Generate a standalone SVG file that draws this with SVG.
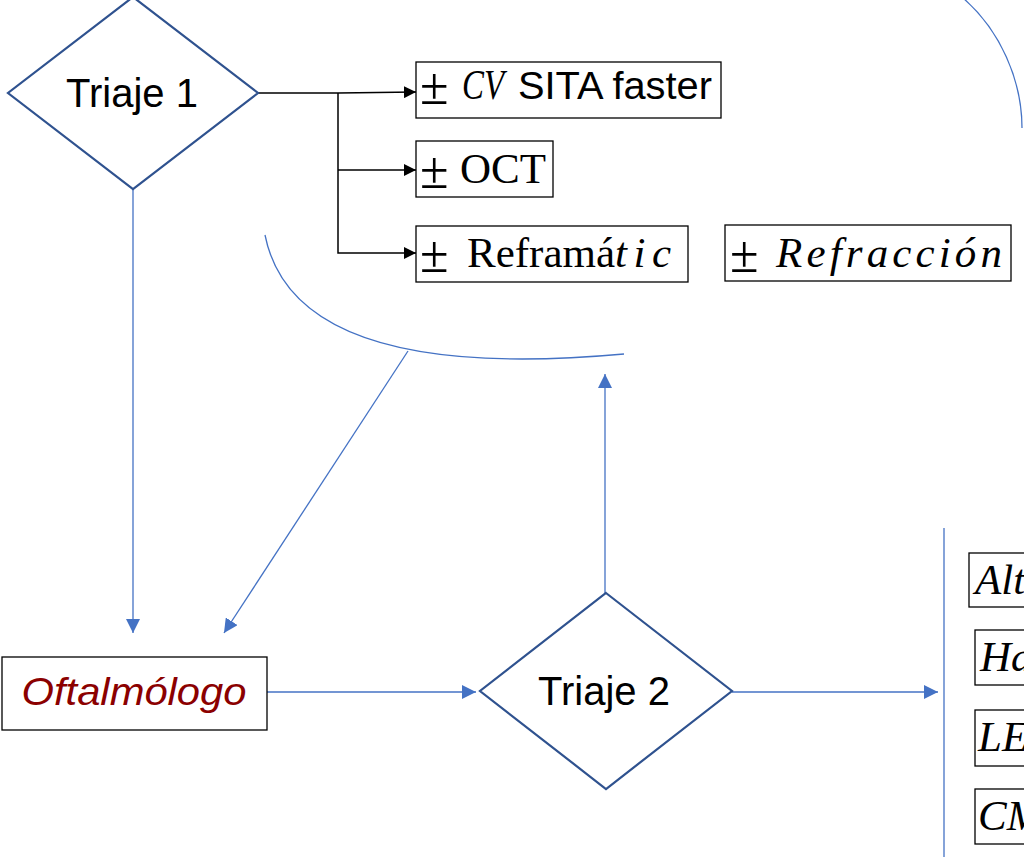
<svg xmlns="http://www.w3.org/2000/svg" width="1024" height="857" viewBox="0 0 1024 857">
  <style>
    .diamond { fill: #ffffff; stroke: #2F528F; stroke-width: 2.2; }
    .box { fill: #ffffff; stroke: #000000; stroke-width: 1.3; }
    .sans { font-family: "Liberation Sans", Arial, sans-serif; fill: #000000; }
    .serif { font-family: "Liberation Serif", "Times New Roman", serif; fill: #000000; }
    .pm { font-family: "Liberation Serif", "Times New Roman", serif; font-size: 52px; fill: #000000; }
    .it { font-style: italic; }
    .blue { fill: none; stroke: #4472C4; stroke-width: 1.3; }
    .black { fill: none; stroke: #000000; stroke-width: 1.5; }
  </style>
  <defs>
    <marker id="arrow-black" markerUnits="userSpaceOnUse" markerWidth="13" markerHeight="12" refX="12" refY="6" orient="auto">
      <path d="M0,0 L12,6 L0,12 z" fill="#000000"/>
    </marker>
    <marker id="arrow-blue" markerUnits="userSpaceOnUse" markerWidth="15" markerHeight="14" refX="14" refY="7" orient="auto">
      <path d="M0,0 L14,7 L0,14 z" fill="#4472C4"/>
    </marker>
  </defs>

  <rect width="1024" height="857" fill="#ffffff"/>

  <!-- connectors -->
  <g id="connectors">
    <!-- Triaje 1 fan-out -->
    <polyline class="black" points="258,93 338,93 416,92" marker-end="url(#arrow-black)"/>
    <polyline class="black" points="338,93 338,253 416,253" marker-end="url(#arrow-black)"/>
    <line class="black" x1="338" y1="170" x2="416" y2="170" marker-end="url(#arrow-black)"/>
    <!-- Triaje 1 down to Oftalmólogo -->
    <line class="blue" x1="133" y1="189" x2="133" y2="633" marker-end="url(#arrow-blue)"/>
    <!-- curved brackets -->
    <path class="blue" d="M265,235 C290,360 470,368 624,354"/>
    <path class="blue" d="M963,-2 C1000,30 1022,80 1022,128"/>
    <!-- from bracket down to Oftalmólogo -->
    <line class="blue" x1="408" y1="351" x2="224" y2="633" marker-end="url(#arrow-blue)"/>
    <!-- Oftalmólogo to Triaje 2 -->
    <line class="blue" x1="267" y1="692" x2="476" y2="692" marker-end="url(#arrow-blue)"/>
    <!-- Triaje 2 up -->
    <line class="blue" x1="605" y1="593" x2="605" y2="374" marker-end="url(#arrow-blue)"/>
    <!-- Triaje 2 right -->
    <line class="blue" x1="732" y1="692" x2="938" y2="692" marker-end="url(#arrow-blue)"/>
    <!-- right bracket line -->
    <line class="blue" x1="944" y1="528" x2="944" y2="857"/>
  </g>

  <!-- decision nodes -->
  <g id="triaje1">
    <polygon class="diamond" points="133,-3 258,93 133,189 8,93"/>
    <text class="sans" x="132" y="107" font-size="40" text-anchor="middle">Triaje 1</text>
  </g>
  <g id="triaje2">
    <polygon class="diamond" points="606,593 732,691 606,789 480,691"/>
    <text class="sans" x="604" y="705" font-size="40" text-anchor="middle">Triaje 2</text>
  </g>

  <!-- Oftalmólogo -->
  <g id="oftalmologo">
    <rect class="box" x="2" y="657" width="265" height="73" stroke-width="2"/>
    <text class="sans it" x="134" y="705" font-size="39" text-anchor="middle" style="fill:#8B0000" textLength="225" lengthAdjust="spacingAndGlyphs">Oftalmólogo</text>
  </g>

  <!-- test boxes -->
  <g id="cv">
    <rect class="box" x="416" y="62" width="305" height="56"/>
    <text class="pm" x="420" y="104">±</text>
    <text x="462" y="99" font-size="43"><tspan class="serif it" textLength="42" lengthAdjust="spacingAndGlyphs">CV</tspan><tspan class="sans" x="518" font-size="38" textLength="194" lengthAdjust="spacingAndGlyphs">SITA faster</tspan></text>
  </g>
  <g id="oct">
    <rect class="box" x="416" y="141" width="137" height="56"/>
    <text class="pm" x="420" y="188">±</text>
    <text class="serif" x="460" y="183" font-size="43">OCT</text>
  </g>
  <g id="reframatic">
    <rect class="box" x="416" y="226" width="272" height="56"/>
    <text class="pm" x="420" y="272">±</text>
    <text x="467" y="267" font-size="43"><tspan class="serif">Reframá</tspan><tspan class="serif it" textLength="56" lengthAdjust="spacing">tic</tspan></text>
  </g>
  <g id="refraccion">
    <rect class="box" x="725" y="225" width="286" height="56"/>
    <text class="pm" x="730" y="272">±</text>
    <text class="serif it" x="776" y="267" font-size="43" textLength="226" lengthAdjust="spacing">Refracción</text>
  </g>

  <!-- outcome boxes on the right edge -->
  <g id="alt">
    <rect class="box" x="969" y="553" width="80" height="54"/>
    <text class="serif it" x="975" y="594" font-size="43">Alt</text>
  </g>
  <g id="ha">
    <rect class="box" x="975" y="630" width="80" height="55"/>
    <text class="serif it" x="980" y="671" font-size="43">Ha</text>
  </g>
  <g id="le">
    <rect class="box" x="975" y="710" width="80" height="56"/>
    <text class="serif it" x="978" y="751" font-size="43">LE</text>
  </g>
  <g id="cm">
    <rect class="box" x="975" y="789" width="80" height="55"/>
    <text class="serif it" x="978" y="830" font-size="43">CM</text>
  </g>
</svg>
